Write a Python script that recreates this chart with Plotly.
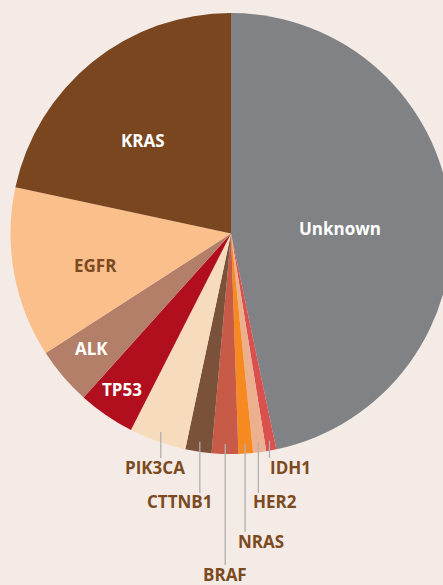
import math
import plotly.graph_objects as go

# ---- data (clockwise from 12 o'clock) ----
labels = ["Unknown", "IDH1", "HER2", "NRAS", "BRAF", "CTTNB1", "PIK3CA", "TP53", "ALK", "EGFR", "KRAS"]
values = [46.7, 0.74, 0.96, 1.06, 1.94, 1.92, 4.17, 4.16, 4.23, 12.47, 21.64]

# ---- styles ----
colors = ["#808285", "#d9504e", "#ecb08e", "#f6891f", "#c85a48", "#7a5139",
          "#f6dcbc", "#b20f1e", "#b47f68", "#fbbf8c", "#79461f"]
BG = "#f4ebe6"
BROWN = "#7b4a20"
FONT = "Open Sans"
FS = 17

W, H = 460, 585
CX, CY, R = 231.0, 233.5, 220.5

# inside labels: name -> (radius fraction, angle tweak, color)
inside = {
    "Unknown": (0.495, 3.5, "white"),
    "KRAS": (0.58, -4.3, "white"),
    "EGFR": (0.63, -3.1, BROWN),
    "ALK": (0.82, 1.1, "white"),
    "TP53": (0.865, 0.4, "white"),
}
# outside labels: name -> (label centre y px, text x offset from leader line)
outside = {
    "PIK3CA": (467, -6),
    "CTTNB1": (502, -20),
    "BRAF": (574, 0),
    "NRAS": (541, 16),
    "HER2": (502, 17),
    "IDH1": (467, 21),
}

fig = go.Figure(go.Pie(
    labels=labels, values=values, sort=False, direction="clockwise", rotation=0,
    marker=dict(colors=colors, line=dict(width=0)),
    textinfo="none", hoverinfo="label+percent", showlegend=False,
    domain=dict(x=[(CX - R) / W, (CX + R) / W], y=[(H - (CY + R)) / H, (H - (CY - R)) / H]),
))

def px2paper(x, y):
    return x / W, 1 - y / H

total = sum(values)
cum = 0.0
annotations, shapes = [], []
for lab, v in zip(labels, values):
    mid = (cum + v / 2) / total * 360.0
    cum += v
    if lab in inside:
        rf, dth, col = inside[lab]
        th = math.radians(mid + dth)
        x = CX + rf * R * math.sin(th)
        y = CY - rf * R * math.cos(th)
        px, py = px2paper(x, y)
        annotations.append(dict(x=px, y=py, xref="paper", yref="paper", text=f"<b>{lab}</b>",
                                showarrow=False, font=dict(family=FONT, size=FS, color=col),
                                xanchor="center", yanchor="middle"))
    elif lab in outside:
        ly, dx = outside[lab]
        th = math.radians(mid)
        x0 = CX + 0.955 * R * math.sin(th)
        y0 = CY - 0.955 * R * math.cos(th)
        y1 = ly - 9
        a0 = px2paper(x0, y0)
        a1 = px2paper(x0, y1)
        shapes.append(dict(type="line", xref="paper", yref="paper", x0=a0[0], y0=a0[1],
                           x1=a1[0], y1=a1[1], line=dict(color="#b0b0b0", width=1.3)))
        tx, ty = px2paper(x0 + dx, ly)
        annotations.append(dict(x=tx, y=ty, xref="paper", yref="paper", text=f"<b>{lab}</b>",
                                showarrow=False, font=dict(family=FONT, size=FS, color=BROWN),
                                xanchor="center", yanchor="middle"))

fig.update_layout(
    width=W, height=H, autosize=False,
    margin=dict(l=0, r=0, t=0, b=0),
    paper_bgcolor=BG, plot_bgcolor=BG,
    annotations=annotations, shapes=shapes,
)

fig.write_html("out.html", config={"displayModeBar": False},
               post_script="document.body.style.margin='0';document.body.style.overflow='hidden';document.documentElement.style.overflow='hidden';document.body.style.background='" + BG + "';")
